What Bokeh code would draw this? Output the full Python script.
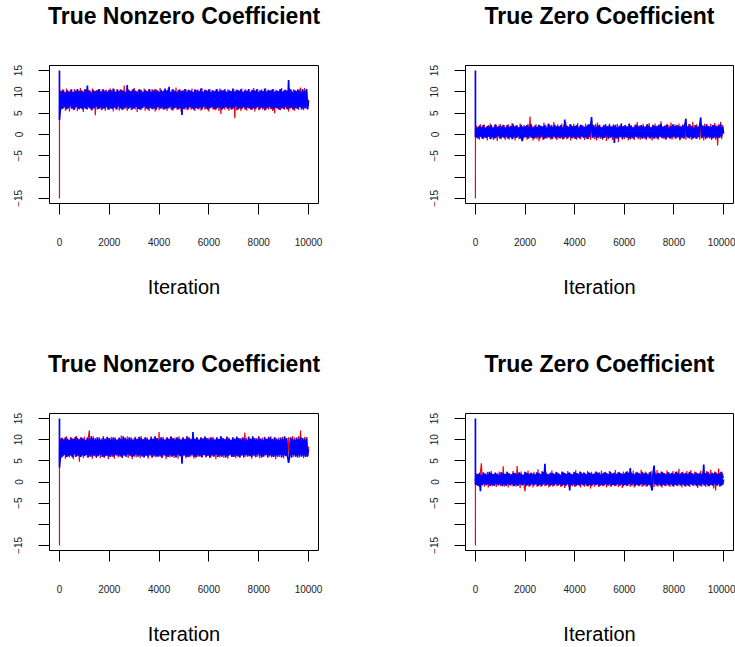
from bokeh.plotting import figure
from bokeh.layouts import column, row
from bokeh.models import Range1d, FixedTicker, Title
from bokeh.embed import file_html
from bokeh.resources import INLINE

# ---------------- data ----------------
TITLES = ["True Nonzero Coefficient", "True Zero Coefficient",
          "True Nonzero Coefficient", "True Zero Coefficient"]
X_LABEL = "Iteration"
X_TICKS = [0, 2000, 4000, 6000, 8000, 10000]
Y_TICKS = [-15, -10, -5, 0, 5, 10, 15]
THIN = 40  # the chains below are read every 40 iterations (after the start value and first step)

# panel 1 (true nonzero)
red_1 = [-15.0, 8.0,
    10.3, 5.9, 10.6, 6.2, 10.0, 5.6, 10.8, 6.1, 10.2, 5.4,
    10.5, 6.0, 9.9, 5.7, 10.7, 6.3, 10.1, 5.5, 10.4, 5.9,
    10.9, 6.2, 10.2, 5.3, 10.6, 6.0, 10.0, 5.8, 10.5, 6.1,
    10.3, 5.6, 10.8, 6.2, 10.1, 4.5, 10.4, 5.9, 10.7, 6.0,
    10.2, 5.7, 10.6, 6.3, 9.9, 5.5, 10.5, 6.1, 10.3, 5.8,
    10.8, 6.0, 10.1, 5.4, 10.6, 6.2, 10.0, 5.9, 10.4, 5.6,
    10.7, 6.1, 10.3, 5.8, 11.5, 6.0, 10.2, 5.5, 10.6, 6.3,
    10.0, 5.7, 10.5, 6.1, 10.9, 5.9, 10.2, 5.3, 10.4, 6.0,
    10.6, 5.8, 10.1, 6.2, 10.8, 5.6, 10.3, 6.0, 10.0, 5.5,
    10.5, 6.1, 10.7, 5.9, 10.2, 5.4, 10.6, 6.2, 10.4, 5.7,
    10.9, 6.0, 10.1, 5.8, 10.5, 6.3, 10.3, 5.5, 10.8, 6.1,
    10.0, 5.9, 10.6, 5.6, 10.2, 6.2, 11.0, 5.8, 10.4, 6.0,
    10.7, 5.4, 10.3, 6.1, 10.1, 5.9, 10.6, 5.7, 10.5, 6.2,
    10.2, 5.8, 10.8, 6.0, 10.0, 5.5, 10.4, 6.3, 10.6, 5.9,
    10.3, 5.6, 10.9, 6.1, 10.1, 5.8, 10.5, 6.0, 10.2, 5.4,
    10.7, 6.2, 10.4, 5.9, 10.0, 5.7, 10.6, 6.1, 10.3, 5.5,
    10.8, 4.8, 10.2, 6.0, 10.5, 5.8, 10.1, 6.2, 10.6, 5.6,
    10.4, 5.9, 10.0, 6.1, 10.7, 3.8, 10.3, 5.7, 10.5, 6.0,
    10.2, 5.5, 10.8, 6.2, 10.1, 5.9, 10.6, 5.6, 10.4, 6.1,
    10.0, 5.8, 10.5, 6.0, 10.9, 5.4, 10.2, 6.3, 10.7, 5.7,
    10.3, 6.1, 10.6, 5.9, 10.1, 5.6, 10.8, 6.2, 10.4, 5.8,
    10.2, 6.0, 10.5, 5.5, 10.7, 5.0, 10.3, 6.1, 10.0, 5.9,
    10.6, 5.7, 10.9, 6.2, 10.2, 5.8, 10.5, 6.0, 10.1, 5.4,
    10.8, 6.1, 10.4, 5.9, 10.6, 5.6, 10.3, 6.2, 10.7, 5.8,
    10.2, 11.0, 6.0, 10.5, 5.7, 10.9, 6.1, 10.4, 5.8, 8.2]
blue_1 = [15.0, 3.4,
    6.3, 10.2, 6.0, 10.5, 6.4, 9.9, 5.9, 10.4, 6.2, 10.1,
    6.5, 10.6, 6.1, 10.0, 5.8, 10.3, 6.4, 10.7, 6.0, 10.2,
    6.2, 10.4, 5.9, 10.1, 6.3, 10.6, 6.0, 11.5, 6.4, 10.3,
    6.1, 9.9, 5.8, 10.5, 6.2, 10.2, 6.5, 10.4, 6.0, 10.7,
    6.3, 10.1, 5.9, 10.6, 6.1, 10.3, 6.4, 10.0, 5.8, 10.5,
    6.2, 10.4, 6.0, 10.8, 6.3, 10.1, 5.9, 10.6, 6.5, 10.2,
    6.1, 10.5, 5.8, 10.3, 6.2, 10.0, 6.4, 11.6, 6.0, 10.4,
    6.3, 10.2, 5.9, 10.7, 6.1, 10.3, 6.4, 10.1, 6.0, 10.6,
    5.8, 10.4, 6.2, 10.0, 6.5, 10.5, 6.1, 10.2, 5.9, 10.7,
    6.3, 10.1, 6.0, 10.4, 6.2, 10.6, 5.8, 10.3, 6.4, 10.0,
    6.1, 10.5, 6.3, 10.2, 5.9, 10.8, 6.0, 10.4, 6.2, 11.2,
    6.4, 10.1, 5.8, 10.6, 6.1, 10.3, 6.3, 10.0, 5.9, 10.5,
    6.2, 10.2, 4.6, 10.4, 6.0, 10.7, 6.3, 10.1, 5.9, 10.5,
    6.4, 10.3, 6.1, 10.0, 5.8, 10.6, 6.2, 10.4, 6.0, 10.2,
    6.3, 10.8, 5.9, 10.1, 6.5, 10.5, 6.1, 10.3, 5.8, 10.6,
    6.2, 10.0, 6.4, 10.4, 6.0, 10.2, 5.9, 10.7, 6.3, 10.1,
    6.1, 10.5, 5.8, 10.3, 6.2, 10.6, 6.4, 10.0, 6.0, 10.4,
    6.3, 10.2, 5.9, 10.8, 6.1, 10.1, 6.5, 10.5, 5.8, 10.3,
    6.2, 10.6, 6.0, 10.0, 6.4, 10.4, 5.9, 10.2, 6.3, 10.7,
    6.1, 10.1, 5.8, 10.5, 6.2, 10.3, 6.0, 10.6, 6.4, 10.0,
    5.9, 10.4, 6.3, 10.2, 6.1, 10.8, 5.8, 10.1, 6.2, 10.5,
    6.4, 10.3, 6.0, 10.6, 5.9, 10.0, 6.3, 10.4, 6.1, 10.2,
    5.8, 10.7, 6.2, 10.1, 6.0, 10.5, 6.4, 10.3, 5.9, 12.8,
    6.1, 10.6, 6.3, 10.0, 5.8, 10.4, 6.2, 10.2, 6.0, 10.5,
    6.4, 10.1, 5.9, 10.6, 6.1, 10.3, 6.2, 10.7, 6.0, 7.9]

# panel 2 (true zero)
red_2 = [-15.0, 1.0,
    2.1, -0.9, 1.8, -1.2, 2.4, -0.7, 1.9, -1.1, 2.3, -0.8,
    1.7, -1.4, 2.2, -0.6, 2.6, -1.0, 1.6, -1.3, 2.0, -0.9,
    2.3, -1.5, 1.9, -0.8, 2.5, -1.1, 2.0, -0.7, 2.2, -1.3,
    1.8, -0.9, 2.4, -1.2, 2.1, -0.6, 2.7, -1.0, 1.9, -1.4,
    2.2, -0.8, 1.7, -1.1, 2.6, -0.9, 2.0, -1.3, 2.3, -0.7,
    1.8, -1.2, 2.5, -1.0, 4.2, -0.8, 2.1, -1.4, 1.9, -0.9,
    2.4, -1.1, 2.0, -1.6, 2.2, -0.7, 1.7, -1.3, 2.8, -0.9,
    2.1, -1.0, 2.5, -0.8, 1.9, -1.2, 2.3, -1.1, 2.9, -0.7,
    2.0, -1.3, 2.4, -0.9, 1.8, -1.0, 2.6, -1.2, 2.2, -0.8,
    3.0, -1.1, 2.0, -0.7, 2.4, -1.4, 1.9, -0.9, 2.5, -1.0,
    2.1, -1.2, 2.7, -0.8, 2.0, -1.1, 2.3, -0.6, 1.8, -1.3,
    2.6, -0.9, 2.2, -1.0, 2.4, -1.2, 3.2, -0.8, 2.1, -1.1,
    2.5, -1.4, 2.8, -0.9, 2.0, -1.0, 1.7, -1.2, 2.3, -0.7,
    2.2, -1.5, 1.9, -1.1, 2.6, -0.8, 2.0, -1.3, 2.4, -0.9,
    1.8, -1.0, 2.5, -1.8, 2.1, -0.7, 2.7, -1.2, 1.9, -1.1,
    2.3, -0.8, 2.0, -1.4, 2.6, -0.9, 2.2, -1.0, 1.8, -1.3,
    2.4, -0.7, 2.9, -1.1, 2.1, -1.2, 1.9, -0.8, 2.5, -1.0,
    2.0, -1.3, 2.3, -0.9, 2.7, -1.1, 1.8, -1.4, 2.2, -0.8,
    2.6, -1.0, 2.1, -1.2, 2.4, -0.7, 3.1, -0.9, 2.0, -1.1,
    1.9, -1.3, 2.5, -0.8, 2.2, -1.0, 2.8, -1.2, 2.0, -0.9,
    2.4, -1.1, 1.8, -0.7, 2.6, -1.4, 2.1, -0.9, 2.3, -1.0,
    2.7, -1.2, 2.0, -0.8, 2.5, -1.1, 1.9, -1.3, 3.0, -0.9,
    2.2, -1.0, 2.4, -0.7, 2.0, -1.2, 2.8, -0.9, 2.1, -1.4,
    2.6, -1.1, 2.3, -0.8, 1.9, -1.0, 2.5, -1.3, 2.2, -0.9,
    2.7, -1.2, 2.1, -2.6, 2.4, -0.8, 3.0, -1.1, 2.2, 0.6]
blue_2 = [15.0, -0.5,
    -0.6, 1.7, -0.9, 2.1, -0.5, 1.8, -1.0, 2.3, -0.7, 1.6,
    -0.8, 2.0, -0.5, 1.9, -1.1, 2.2, -0.6, 1.7, -0.9, 2.4,
    -0.7, 1.8, -0.4, 2.1, -1.0, 1.9, -0.6, 2.3, -0.8, 1.7,
    -0.5, 2.2, -0.9, 1.8, -0.7, 2.0, -1.1, 2.4, -0.6, 1.9,
    -0.8, 2.1, -0.5, 1.7, -1.0, 2.3, -1.6, 1.8, -0.7, 2.0,
    -0.6, 2.2, -0.9, 1.9, -0.5, 2.4, -0.8, 1.7, -1.0, 2.1,
    -0.7, 1.8, -0.6, 2.3, -0.9, 2.0, -0.5, 1.9, -1.1, 2.2,
    -0.8, 1.7, -0.6, 2.5, -0.7, 2.1, -1.0, 1.8, -0.5, 2.3,
    -0.9, 2.0, -0.6, 1.9, -0.8, 2.2, -0.7, 1.7, -1.0, 3.5,
    -0.6, 2.1, -0.9, 1.8, -0.5, 2.4, -0.8, 2.0, -0.7, 1.9,
    -1.0, 2.2, -0.6, 1.7, -0.9, 2.3, -0.5, 2.1, -0.8, 1.8,
    -0.7, 2.0, -1.1, 2.4, -0.6, 1.9, 4.1, -0.8, 2.2, -0.5,
    1.8, -0.9, 2.1, -0.7, 2.3, -0.6, 1.7, -1.0, 2.0, -0.8,
    2.4, -0.5, 1.9, -0.9, 2.2, -0.7, 1.8, -0.6, 2.1, -2.0,
    2.3, -0.8, 1.7, -1.0, 2.0, -0.5, 2.4, -0.9, 1.9, -0.7,
    2.2, -0.6, 1.8, -0.8, 2.5, -1.1, 2.0, -0.7, 1.7, -0.9,
    2.1, -0.5, 2.3, -0.8, 1.9, -0.6, 2.2, -1.0, 2.0, -0.7,
    1.8, -0.9, 2.4, -0.5, 2.1, -0.8, 1.7, -0.7, 2.3, -1.0,
    2.0, -0.6, 1.9, -0.9, 2.2, -0.5, 2.5, -0.8, 1.8, -0.7,
    2.1, -1.0, 2.3, -0.6, 1.7, -0.9, 2.0, -0.7, 2.4, -0.5,
    1.9, -0.8, 2.2, -0.6, 2.0, -1.1, 1.8, -0.7, 2.3, -0.9,
    2.1, 3.7, -0.5, 1.9, -0.8, 2.4, -0.6, 2.0, -0.9, 1.7,
    -0.7, 2.2, -1.0, 1.8, -0.6, 2.3, 4.0, -0.8, 2.1, -0.5,
    1.9, -0.9, 2.4, -0.7, 2.0, -0.6, 1.8, -1.0, 2.2, -0.8,
    2.3, -0.6, 1.9, -0.9, 2.1, -0.7, 2.5, -0.5, 1.8, 0.2]

# panel 3 (true nonzero)
red_3 = [-15.0, 8.0,
    10.1, 5.7, 10.5, 6.2, 10.3, 5.5, 10.8, 6.0, 10.0, 5.8,
    10.6, 6.1, 10.2, 5.4, 10.4, 5.9, 10.9, 6.3, 10.1, 4.8,
    10.5, 6.0, 10.3, 5.6, 10.7, 6.2, 10.0, 5.8, 10.6, 12.2,
    5.9, 10.2, 5.5, 10.8, 6.1, 10.4, 5.7, 10.1, 6.3, 10.6,
    5.6, 10.3, 6.0, 10.9, 5.8, 10.2, 6.2, 10.5, 5.4, 10.0,
    6.1, 10.7, 5.9, 10.3, 5.5, 10.6, 6.2, 10.1, 5.8, 10.4,
    6.0, 11.0, 5.6, 10.2, 6.3, 10.5, 5.9, 10.8, 5.7, 10.0,
    6.1, 10.6, 5.4, 10.3, 6.0, 10.7, 5.8, 10.1, 6.2, 10.5,
    5.6, 10.9, 6.0, 10.2, 5.9, 10.4, 6.3, 10.6, 5.5, 10.1,
    6.1, 10.8, 5.7, 10.3, 6.0, 10.5, 5.8, 10.0, 6.2, 11.8,
    5.9, 10.4, 5.6, 10.7, 6.1, 10.2, 5.4, 10.6, 6.0, 10.3,
    5.8, 10.9, 6.2, 10.1, 5.7, 10.5, 6.0, 10.3, 5.5, 10.8,
    6.1, 10.2, 5.9, 10.6, 6.3, 10.0, 5.6, 10.4, 6.0, 10.7,
    5.8, 10.3, 6.1, 10.9, 5.5, 10.1, 6.2, 10.5, 5.9, 10.2,
    6.0, 10.6, 5.7, 10.4, 6.3, 10.8, 5.8, 10.0, 6.1, 10.5,
    5.6, 10.2, 6.0, 10.7, 5.9, 10.3, 5.4, 10.6, 6.2, 10.1,
    5.8, 10.9, 6.1, 10.4, 5.7, 10.2, 6.0, 10.8, 5.5, 10.5,
    6.2, 10.0, 5.9, 10.6, 6.1, 10.3, 5.6, 10.7, 6.0, 10.2,
    5.8, 10.4, 6.3, 10.1, 5.7, 11.7, 6.0, 10.5, 5.9, 10.8,
    6.1, 10.3, 5.5, 10.6, 6.2, 10.0, 5.8, 10.4, 6.0, 10.9,
    5.6, 10.2, 6.1, 10.5, 5.9, 10.7, 6.3, 10.1, 5.7, 10.4,
    6.0, 10.8, 5.8, 10.3, 6.2, 10.6, 5.4, 10.0, 6.1, 10.5,
    5.9, 10.2, 6.0, 10.7, 5.6, 10.4, 6.2, 10.1, 5.8, 10.6,
    6.1, 10.3, 5.7, 10.9, 6.0, 10.5, 5.9, 10.2, 6.3, 10.8,
    5.8, 12.2, 6.1, 10.4, 5.6, 10.7, 6.0, 10.3, 5.9, 8.4]
blue_3 = [15.0, 3.4,
    6.2, 10.4, 6.0, 10.1, 6.4, 10.6, 5.9, 10.3, 6.1, 10.0,
    6.3, 10.5, 5.8, 10.2, 6.5, 10.7, 6.0, 10.4, 6.2, 10.1,
    5.9, 10.6, 6.3, 10.3, 6.1, 10.0, 6.4, 10.5, 5.8, 10.2,
    6.2, 10.8, 6.0, 10.4, 6.3, 10.1, 5.9, 10.6, 6.1, 10.3,
    6.4, 10.0, 6.0, 10.5, 5.8, 10.2, 6.2, 10.7, 6.1, 10.4,
    5.9, 10.1, 6.3, 10.6, 6.0, 10.3, 6.4, 10.0, 6.2, 10.5,
    6.1, 10.2, 5.8, 10.8, 6.3, 10.4, 6.0, 10.1, 6.5, 10.6,
    6.2, 10.3, 5.9, 10.0, 6.1, 10.5, 6.4, 10.2, 6.0, 10.7,
    6.3, 10.4, 6.1, 10.1, 5.8, 10.6, 6.2, 10.3, 6.0, 10.0,
    6.4, 10.5, 5.9, 10.2, 6.3, 10.8, 6.1, 10.4, 6.0, 10.1,
    6.2, 10.6, 5.8, 10.3, 6.4, 10.0, 6.1, 10.5, 5.9, 10.2,
    6.3, 10.7, 6.0, 10.4, 6.2, 10.1, 5.8, 10.6, 6.4, 10.3,
    6.1, 10.0, 4.3, 10.5, 6.3, 10.2, 6.0, 10.8, 5.9, 10.4,
    6.2, 10.1, 6.4, 11.8, 6.0, 10.3, 5.8, 10.6, 6.3, 10.0,
    6.1, 10.5, 5.9, 10.2, 6.4, 10.7, 6.0, 10.4, 6.2, 10.1,
    5.8, 10.6, 6.3, 10.3, 6.1, 10.0, 6.4, 10.5, 5.9, 10.2,
    6.2, 10.8, 6.0, 10.4, 6.3, 10.1, 5.8, 10.6, 6.1, 10.3,
    6.4, 10.0, 6.0, 10.5, 5.9, 10.2, 6.2, 10.7, 6.1, 10.4,
    5.8, 10.1, 6.3, 10.6, 6.0, 10.3, 6.4, 10.0, 6.2, 10.5,
    6.1, 10.2, 5.9, 10.8, 6.3, 10.4, 6.0, 10.1, 6.5, 10.6,
    6.2, 10.3, 5.8, 10.0, 6.1, 10.5, 6.4, 10.2, 6.0, 10.7,
    6.3, 10.4, 6.1, 10.1, 5.9, 10.6, 6.2, 10.3, 6.0, 10.0,
    6.4, 10.5, 5.8, 10.2, 6.3, 10.8, 6.1, 10.4, 6.0, 4.5,
    6.2, 10.6, 5.9, 10.3, 6.4, 10.0, 6.1, 10.5, 5.8, 10.2,
    6.3, 10.7, 6.0, 10.4, 6.2, 10.1, 5.9, 10.6, 6.1, 7.8]

# panel 4 (true zero)
red_4 = [-15.0, 1.0,
    2.0, -0.9, 1.7, -1.2, 2.3, 4.4, -0.8, 2.1, -1.1, 1.8,
    -0.7, 2.4, -1.3, 2.0, -0.9, 2.6, -1.0, 1.9, -0.8, 2.2,
    -1.2, 1.8, -0.6, 2.5, -1.0, 2.3, -0.9, 3.7, -1.1, 2.0,
    -0.8, 2.4, -1.3, 2.1, -0.7, 1.9, -1.0, 2.6, -0.9, 2.2,
    -1.1, 3.8, -0.8, 2.0, -1.4, 2.5, -0.7, 1.8, -1.0, -2.2,
    2.3, -0.9, 2.7, -1.2, 2.1, -0.8, 1.9, -1.3, 2.4, -0.6,
    2.0, -1.1, 3.0, -0.9, 1.8, -1.2, 2.6, -0.7, 2.1, -1.0,
    2.5, -0.8, 1.9, -1.3, 2.2, -0.9, 2.7, -1.1, 2.0, -0.7,
    2.4, -1.0, 2.1, -0.8, 1.8, -1.2, 2.5, -0.9, 2.2, -1.4,
    2.0, -0.7, 2.6, -1.1, 2.3, -0.8, 1.9, -1.0, 2.4, -1.2,
    2.8, -0.9, 2.1, -0.7, 2.5, -1.3, 2.0, -0.8, 2.3, -1.1,
    1.9, -0.9, 2.6, -1.0, 2.2, -1.5, 2.4, -0.8, 2.0, -1.1,
    2.5, -0.7, 1.8, -1.2, 2.3, -0.9, 2.7, -1.0, 2.1, -0.8,
    2.4, -1.3, 2.0, -0.9, 2.6, -1.1, 1.9, -0.7, 2.2, -1.0,
    2.8, -0.8, 2.1, -1.2, 2.4, -0.9, 2.0, -1.4, 2.5, -0.7,
    2.2, -1.0, 2.6, -0.8, 1.9, -1.1, 2.3, -0.9, 2.7, -1.3,
    2.0, -0.7, 2.4, -1.0, 2.2, -0.8, 2.9, -1.2, 2.1, -0.9,
    2.5, -1.1, 2.0, -0.7, 2.3, -1.0, 2.6, -0.8, 1.9, -1.2,
    2.4, -0.9, 2.8, -1.1, 2.1, -0.8, 2.5, -1.3, 2.2, -0.7,
    2.0, -1.0, 2.7, -0.9, 2.3, -1.2, 1.9, -0.8, 2.6, -1.1,
    2.2, -0.7, 2.5, -1.0, 3.1, -0.9, 2.1, -1.3, 2.4, -0.8,
    2.0, -1.1, 2.6, -0.9, 2.3, -1.2, 2.8, -0.7, 2.1, -1.0,
    2.5, -0.8, 2.2, -1.4, 1.9, -0.9, 2.7, -1.1, 2.4, -0.8,
    2.0, -1.2, 2.6, -0.9, 2.3, -1.0, 2.9, -0.7, 2.2, -1.5,
    2.5, -2.0, 2.1, -0.9, 3.2, -1.1, 2.4, -0.8, 2.0, 0.9]
blue_4 = [15.0, -0.5,
    -0.6, 1.9, -0.9, 2.2, -2.2, 1.7, -0.7, 2.3, -0.5, 2.0,
    -0.8, 1.8, -0.6, 2.4, -1.0, 2.1, -0.7, 1.9, -0.9, 2.2,
    -0.5, 2.0, -0.8, 1.7, -0.6, 2.3, -1.0, 2.1, -0.7, 1.9,
    -0.9, 2.4, -0.5, 2.0, -0.8, 1.8, -0.6, 2.2, -1.0, 2.1,
    -0.7, 1.9, -0.9, 2.3, -0.5, 2.0, -0.8, 1.7, -0.6, 2.4,
    -1.0, 2.1, -0.7, 1.9, -0.9, 2.2, -0.5, 2.0, -0.8, 1.8,
    -0.6, 2.3, -1.0, 2.1, -0.7, 1.9, -0.9, 2.4, -0.5, 4.3,
    -0.8, 2.0, -0.6, 1.8, -1.0, 2.2, -0.7, 2.1, -0.9, 1.9,
    -0.5, 2.3, -0.8, 2.0, -0.6, 1.7, -1.0, 2.4, -0.7, 2.1,
    -0.9, 1.9, -0.5, 2.2, -2.0, 2.0, -0.8, 1.8, -0.6, 2.3,
    -1.0, 2.1, -0.7, 1.9, -0.9, 2.4, -0.5, 2.0, -0.8, 2.2,
    -0.6, 1.8, -1.0, 2.3, -0.7, 2.1, -0.9, 1.9, -0.5, 2.0,
    -0.8, 2.4, -0.6, 2.2, -1.0, 1.8, -0.7, 2.0, -0.9, 2.3,
    -0.5, 2.1, -0.8, 1.9, -0.6, 2.4, -1.0, 2.0, -0.7, 2.2,
    -0.9, 1.8, -0.5, 2.3, -0.8, 2.1, -0.6, 1.9, -1.0, 2.0,
    -0.7, 2.4, -0.9, 2.2, -0.5, 3.3, -0.8, 2.0, -0.6, 1.8,
    -1.0, 2.3, -0.7, 2.1, -0.9, 1.9, -0.5, 2.4, -0.8, 2.0,
    -0.6, 2.2, -1.0, 1.8, -0.7, 2.3, -0.9, -2.0, 2.1, 3.9,
    -0.5, 1.9, -0.8, 2.2, -0.6, 2.0, -1.0, 2.4, -0.7, 2.1,
    -0.9, 1.8, -0.5, 2.3, -0.8, 2.0, -0.6, 2.2, -1.0, 1.9,
    -0.7, 2.4, -0.9, 2.1, -0.5, 1.8, -0.8, 2.3, -0.6, 2.0,
    -1.0, 2.2, -0.7, 1.9, -0.9, 2.4, -0.5, 2.1, -0.8, 1.8,
    -0.6, 2.3, -1.0, 2.0, -0.7, 2.2, -0.9, 1.9, -0.5, 4.1,
    -0.8, 2.1, -0.6, 2.4, -1.0, 1.8, -0.7, 2.2, -0.9, 2.0,
    -0.5, 2.3, -0.8, 1.9, -0.6, 2.1, -1.0, 2.4, -0.7, 0.6]

RED_CHAINS = [red_1, red_2, red_3, red_4]
BLUE_CHAINS = [blue_1, blue_2, blue_3, blue_4]

FONT = "Liberation Sans"


def iterations(chain):
    # start value at iteration 0, first step at iteration 1, then every THIN iterations
    return [0, 1] + [THIN * k for k in range(1, len(chain) - 1)]


def panel(idx, width, height, b_left, b_right, b_top, b_bottom):
    p = figure(width=width, height=height, output_backend="svg",
               toolbar_location=None, tools="", title=None,
               x_range=Range1d(-400, 10400), y_range=Range1d(-16.2, 16.2),
               min_border_left=b_left, min_border_right=b_right,
               min_border_top=b_top, min_border_bottom=b_bottom)
    # blank spacer (white text + standoff) between the frame and the title
    p.add_layout(Title(text=".", text_font=FONT, text_font_size="10px",
                       text_color="white", standoff=27), "above")
    p.add_layout(Title(text=TITLES[idx], align="center", text_font=FONT,
                       text_font_size="23px", text_font_style="bold",
                       text_color="black", standoff=0), "above")
    p.grid.visible = False
    p.outline_line_color = "black"
    p.outline_line_width = 1
    p.background_fill_color = "white"
    p.border_fill_color = "white"

    for ax in (p.xaxis[0], p.yaxis[0]):
        ax.axis_line_color = None
        ax.major_tick_line_color = "black"
        ax.major_tick_out = 11
        ax.major_tick_in = 0
        ax.minor_tick_line_color = None
        ax.major_label_text_font = FONT
        ax.major_label_text_font_size = "10px"
        ax.major_label_text_color = "#222222"

    xa = p.xaxis[0]
    xa.ticker = FixedTicker(ticks=X_TICKS)
    xa.major_label_standoff = 23
    xa.axis_label = X_LABEL
    xa.axis_label_text_font = FONT
    xa.axis_label_text_font_size = "20px"
    xa.axis_label_text_font_style = "normal"
    xa.axis_label_text_color = "black"
    xa.axis_label_standoff = 27

    ya = p.yaxis[0]
    ya.ticker = FixedTicker(ticks=Y_TICKS)
    ya.major_label_overrides = {-10: ""}
    ya.major_label_orientation = "vertical"
    ya.major_label_standoff = 16

    red, blue = RED_CHAINS[idx], BLUE_CHAINS[idx]
    p.line(iterations(red), red, line_color="#FF0000", line_width=1.2)
    p.line(iterations(blue), blue, line_color="#0000FF", line_width=1.7)
    return p


p1 = panel(0, 380, 348, 49, 62, 65, 145)
p2 = panel(1, 355, 348, 85, 2, 65, 145)
p3 = panel(2, 380, 299, 49, 62, 65, 96)
p4 = panel(3, 355, 299, 85, 2, 65, 96)

layout = column(row(p1, p2), row(p3, p4))

open("out.html", "w").write(file_html(layout, INLINE))
